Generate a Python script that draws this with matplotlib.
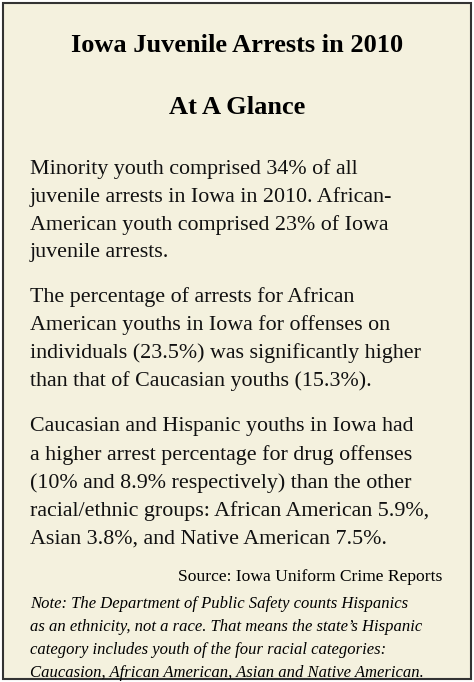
import matplotlib.pyplot as plt
from matplotlib.patches import Rectangle

title_lines = ["Iowa Juvenile Arrests in 2010", "At A Glance"]
paragraphs = [
    ["Minority youth comprised 34% of all",
     "juvenile arrests in Iowa in 2010. African-",
     "American youth comprised 23% of Iowa",
     "juvenile arrests."],
    ["The percentage of arrests for African",
     "American youths in Iowa for offenses on",
     "individuals (23.5%) was significantly higher",
     "than that of Caucasian youths (15.3%)."],
    ["Caucasian and Hispanic youths in Iowa had",
     "a higher arrest percentage for drug offenses",
     "(10% and 8.9% respectively) than the other",
     "racial/ethnic groups: African American 5.9%,",
     "Asian 3.8%, and Native American 7.5%."],
]
source = "Source: Iowa Uniform Crime Reports"
note_lines = [
    "Note: The Department of Public Safety counts Hispanics",
    "as an ethnicity, not a race. That means the state\u2019s Hispanic",
    "category includes youth of the four racial categories:",
    "Caucasion, African American, Asian and Native American.",
]

W, H = 474, 682
fig = plt.figure(figsize=(W / 100, H / 100), dpi=100)
fig.patch.set_facecolor("white")
fig.patches.append(Rectangle((3 / W, 3 / H), 1 - 6 / W, 1 - 6 / H,
                             transform=fig.transFigure, facecolor="#f4f1de",
                             edgecolor="#333333", linewidth=1.5))

serif = "Liberation Serif"
def y(px):
    return 1 - px / H

fig.text(0.5, y(46), title_lines[0], ha="center", va="center",
         family=serif, fontsize=19, fontweight="bold")
fig.text(0.5, y(108), title_lines[1], ha="center", va="center",
         family=serif, fontsize=19, fontweight="bold")

starts = [169, 297, 427]
for start, para in zip(starts, paragraphs):
    for i, line in enumerate(para):
        fig.text(30 / W, y(start + 28 * i), line, ha="left", va="center",
                 family=serif, fontsize=15.8, color="#111111")

fig.text(442 / W, y(577), source, ha="right", va="center",
         family=serif, fontsize=12.6)
for i, line in enumerate(note_lines):
    fig.text(30 / W, y(604 + 23 * i), line, ha="left", va="center",
             family=serif, fontsize=12, style="italic")

fig.savefig("out.png", dpi=100)
